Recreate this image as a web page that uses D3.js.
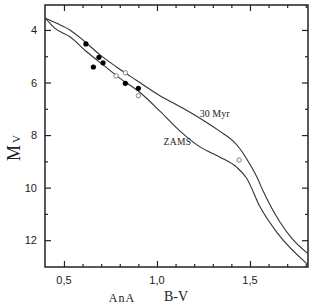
<!DOCTYPE html>
<html>
<head>
<meta charset="utf-8">
<script src="https://cdn.jsdelivr.net/npm/d3@7"></script>
<style>
  body { margin: 0; background: #fff; }
  svg { display: block; }
</style>
</head>
<body>
<div id="chart"></div>
<script>
// B-V, Mv along the two isochrones
const zamsBV = [0.40, 0.452, 0.532, 0.622, 0.710, 0.801, 0.909, 1.016, 1.124, 1.231, 1.339, 1.428, 1.482, 1.554, 1.652, 1.81];
const zamsMv = [3.55, 3.94, 4.26, 4.83, 5.33, 5.84, 6.38, 7.09, 7.85, 8.45, 8.84, 9.22, 9.64, 10.73, 11.77, 12.92];
const myr30BV = [0.40, 0.461, 0.532, 0.618, 0.694, 0.783, 0.891, 1.016, 1.140, 1.231, 1.339, 1.409, 1.446, 1.482, 1.536, 1.572, 1.661, 1.731, 1.81];
const myr30Mv = [3.55, 3.745, 4.00, 4.48, 4.95, 5.41, 5.92, 6.50, 6.98, 7.36, 7.86, 8.22, 8.52, 8.90, 9.58, 10.15, 11.31, 11.98, 12.5];

// stars
const filledBV = [0.618, 0.688, 0.710, 0.658, 0.830, 0.900];
const filledMv = [4.53, 5.04, 5.25, 5.41, 6.03, 6.22];
const openBV = [0.780, 0.830, 0.900, 1.442];
const openMv = [5.75, 5.63, 6.50, 8.95];

const xTicks = [0.5, 1.0, 1.5];
const xTickLabels = ["0,5", "1,0", "1,5"];
const yTicks = [4, 6, 8, 10, 12];

const width = 311, height = 306;
const margin = {top: 5, right: 3, bottom: 39, left: 45};
const w = width - margin.left - margin.right;
const h = height - margin.top - margin.bottom;

const svg = d3.select("#chart").append("svg")
  .attr("width", width)
  .attr("height", height);

const g = svg.append("g")
  .attr("transform", "translate(" + margin.left + "," + margin.top + ")");

const x = d3.scaleLinear().domain([0.398, 1.812]).range([0, w]);
const y = d3.scaleLinear().domain([3.05, 13.02]).range([0, h]);

const minorX = d3.range(5, 19).map(d => d / 10).filter(d => !xTicks.includes(d));
const minorY = [5, 7, 9, 11];

// ticks, all pointing inward
function ticks(axis, vals, size) {
  return axis.tickValues(vals).tickSize(size).tickFormat("");
}
const tickStyle = sel => {
  sel.select(".domain").remove();
  sel.selectAll("line").attr("stroke", "#222").attr("stroke-width", 1.2);
};

g.append("g").attr("transform", "translate(0," + h + ")")
  .call(ticks(d3.axisTop(x), xTicks, 6)).call(tickStyle);
g.append("g").attr("transform", "translate(0," + h + ")")
  .call(ticks(d3.axisTop(x), minorX, 3)).call(tickStyle);
g.append("g")
  .call(ticks(d3.axisBottom(x), xTicks, 6)).call(tickStyle);
g.append("g")
  .call(ticks(d3.axisBottom(x), minorX, 3)).call(tickStyle);
g.append("g")
  .call(ticks(d3.axisRight(y), yTicks, 6)).call(tickStyle);
g.append("g")
  .call(ticks(d3.axisRight(y), minorY, 3)).call(tickStyle);
g.append("g").attr("transform", "translate(" + w + ",0)")
  .call(ticks(d3.axisLeft(y), yTicks, 6)).call(tickStyle);
g.append("g").attr("transform", "translate(" + w + ",0)")
  .call(ticks(d3.axisLeft(y), minorY, 3)).call(tickStyle);

// tick labels
g.append("g").selectAll("text")
  .data(xTicks)
  .enter().append("text")
  .attr("x", d => x(d))
  .attr("y", h + 17)
  .attr("text-anchor", "middle")
  .style("font-family", "Liberation Sans, Arial, sans-serif")
  .style("font-size", "11px")
  .style("fill", "#222")
  .text((d, i) => xTickLabels[i]);

g.append("g").selectAll("text")
  .data(yTicks)
  .enter().append("text")
  .attr("x", -8)
  .attr("y", d => y(d))
  .attr("text-anchor", "end")
  .attr("dominant-baseline", "central")
  .style("font-family", "Liberation Sans, Arial, sans-serif")
  .style("font-size", "11px")
  .style("fill", "#222")
  .text(d => d);

// frame
g.append("rect")
  .attr("width", w).attr("height", h)
  .attr("fill", "none")
  .attr("stroke", "#222")
  .attr("stroke-width", 1.5);

// isochrones
const line = d3.line()
  .x(d => x(d[0]))
  .y(d => y(d[1]))
  .curve(d3.curveMonotoneX);

g.append("clipPath").attr("id", "plot")
  .append("rect").attr("width", w).attr("height", h);

g.append("path")
  .datum(zamsBV.map((d, i) => [d, zamsMv[i]]))
  .attr("d", line)
  .attr("clip-path", "url(#plot)")
  .attr("fill", "none")
  .attr("stroke", "#333")
  .attr("stroke-width", 1.1);

g.append("path")
  .datum(myr30BV.map((d, i) => [d, myr30Mv[i]]))
  .attr("d", line)
  .attr("clip-path", "url(#plot)")
  .attr("fill", "none")
  .attr("stroke", "#333")
  .attr("stroke-width", 1.1);

// stars
g.append("g").selectAll("circle")
  .data(filledBV)
  .enter().append("circle")
  .attr("cx", d => x(d))
  .attr("cy", (d, i) => y(filledMv[i]))
  .attr("r", 2.6)
  .attr("fill", "#000");

g.append("g").selectAll("circle")
  .data(openBV)
  .enter().append("circle")
  .attr("cx", d => x(d))
  .attr("cy", (d, i) => y(openMv[i]))
  .attr("r", 2.2)
  .attr("fill", "#fff")
  .attr("stroke", "#777")
  .attr("stroke-width", 0.9);

// curve labels
const serif = "Liberation Serif, Times New Roman, serif";
g.append("text")
  .attr("x", x(1.23)).attr("y", y(7.33))
  .style("font-family", serif).style("font-size", "10px").style("fill", "#222")
  .text("30 Myr");
g.append("text")
  .attr("x", x(1.035)).attr("y", y(8.38))
  .style("font-family", serif).style("font-size", "9.5px").style("fill", "#222")
  .style("letter-spacing", "0.4px")
  .text("ZAMS");

// axis titles
svg.append("text")
  .attr("transform", "translate(20,148) rotate(-90)")
  .attr("text-anchor", "middle")
  .style("font-family", serif).style("font-size", "18px").style("fill", "#222")
  .text("M")
  .append("tspan")
  .style("font-size", "11px")
  .attr("dx", 2)
  .text("V");

svg.append("text")
  .attr("x", 176).attr("y", 301)
  .attr("text-anchor", "middle")
  .style("font-family", serif).style("font-size", "14px").style("fill", "#222")
  .text("B-V");

svg.append("text")
  .attr("x", 122).attr("y", 302)
  .attr("text-anchor", "middle")
  .style("font-family", serif).style("font-size", "12px").style("fill", "#222")
  .style("letter-spacing", "1px")
  .text("AnA");
</script>
</body>
</html>
